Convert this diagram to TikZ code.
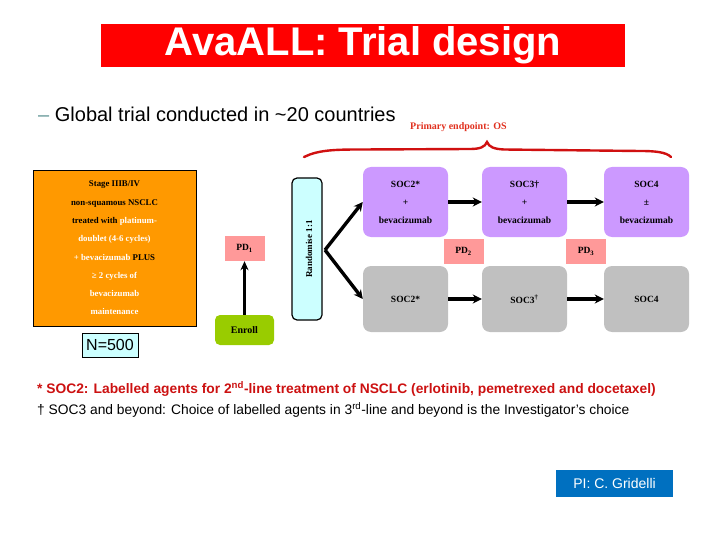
\documentclass[tikz,border=0pt]{standalone}
\usepackage{fontspec}
\setmainfont{Liberation Serif}
\setsansfont{Liberation Sans}
\usetikzlibrary{arrows.meta}
\definecolor{titlered}{HTML}{FF0000}
\definecolor{orangebox}{HTML}{FF9900}
\definecolor{cyanbox}{HTML}{CCFFFF}
\definecolor{pinkbox}{HTML}{FF9999}
\definecolor{greenbox}{HTML}{99CC00}
\definecolor{purplebox}{HTML}{CC99FF}
\definecolor{greybox}{HTML}{C0C0C0}
\definecolor{piblue}{HTML}{0070C0}
\definecolor{endpointred}{HTML}{E0301E}
\definecolor{bracered}{HTML}{D01010}
\definecolor{dashgrey}{HTML}{669999}
\definecolor{noteRed}{HTML}{CC1111}
\tikzset{
  small/.style={font=\bfseries\fontsize{9.5}{11}\selectfont},
  socbox/.style={rounded corners=8pt, minimum width=85pt, minimum height=70pt, inner sep=0pt, align=center, small,
     execute at begin node=\setlength{\baselineskip}{18pt}},
  pdbox/.style={fill=pinkbox, minimum width=40pt, minimum height=25pt, inner sep=0pt, small},
  flow/.style={line width=3.4pt, -{Stealth[length=9pt,width=9pt]}},
}
\begin{document}
\begin{tikzpicture}[x=1pt,y=-1pt]
\useasboundingbox (0,0) rectangle (720,540);
% title
\node[fill=titlered, minimum width=524pt, minimum height=43pt, inner sep=0pt,
      text=white, font=\sffamily\bfseries\fontsize{40}{44}\selectfont] (title) at (363,45.5) {AvaALL: Trial design};
% subtitle
\node[anchor=west, inner sep=0pt, font=\sffamily\fontsize{20}{24}\selectfont] (sub) at (38,114)
  {\textcolor{dashgrey}{--}\ Global trial conducted in \textasciitilde 20 countries};
\node[anchor=west, inner sep=0pt, text=endpointred, font=\bfseries\fontsize{10}{12}\selectfont] (endpoint) at (410,127) {Primary endpoint: OS};
% brace
\draw[bracered, line width=2.4pt, line cap=round]
  (304,157) .. controls (318,150) and (335,149.5) .. (360,149.5)
  -- (470,149) .. controls (480,149) and (485,147) .. (487,142)
  .. controls (489,147) and (494,149) .. (504,149.5)
  -- (640,151) .. controls (655,151) and (666,152) .. (671,157);
% orange box
\node[draw=black, line width=0.8pt, fill=orangebox, minimum width=163pt, minimum height=156pt, inner sep=0pt,
      align=center, font=\bfseries\fontsize{8.8}{18.3}\selectfont] (pop) at (114.5,248)
  {Stage IIIB/IV\\
   non-squamous NSCLC\\
   treated with \textcolor{white}{platinum-}\\
   \textcolor{white}{doublet (4-6 cycles)}\\
   \textcolor{white}{+ bevacizumab} PLUS\\
   \textcolor{white}{≥ 2 cycles of}\\
   \textcolor{white}{bevacizumab}\\
   \textcolor{white}{maintenance}};
\node[draw=black, line width=0.8pt, fill=cyanbox, minimum width=56pt, minimum height=24pt, inner sep=0pt,
      font=\sffamily\fontsize{16}{18}\selectfont] (n500) at (110,345) {N=500};
% PD1 and enroll
\node[pdbox] (pd1) at (244.5,248.5) {PD\textsubscript{1}};
\node[fill=greenbox, rounded corners=5pt, minimum width=59pt, minimum height=30pt, inner sep=0pt,
      font=\bfseries\fontsize{10}{12}\selectfont] (enroll) at (244.5,330) {Enroll};
\draw[line width=3pt, -{Stealth[length=9pt,width=8pt]}] (enroll.north) -- (pd1.south);
% randomise
\node[draw=black, line width=1.2pt, fill=cyanbox, rounded corners=5pt, minimum width=30pt, minimum height=142pt,
      inner sep=0pt] (rand) at (307,249) {};
\node[rotate=90, font=\bfseries\fontsize{9}{11}\selectfont] (randtxt) at (309,249) {Randomise 1:1};
% treatment boxes
\node[socbox, fill=purplebox] (a2) at (405.5,202) {SOC2*\\+\\bevacizumab};
\node[socbox, fill=purplebox] (a3) at (524.5,202) {SOC3†\\+\\bevacizumab};
\node[socbox, fill=purplebox] (a4) at (646.5,202) {SOC4\\±\\bevacizumab};
\node[socbox, fill=greybox, minimum height=66pt] (b2) at (405.5,299) {SOC2*};
\node[socbox, fill=greybox, minimum height=66pt] (b3) at (524.5,299) {SOC3\textsuperscript{†}};
\node[socbox, fill=greybox, minimum height=66pt] (b4) at (646.5,299) {SOC4};
\node[pdbox] (pd2) at (463.5,251.5) {PD\textsubscript{2}};
\node[pdbox] (pd3) at (586,251.5) {PD\textsubscript{3}};
% connectors
\coordinate (fork) at (325,250);
\draw[flow] (fork) -- (a2.west);
\draw[flow] (fork) -- (b2.west);
\draw[flow] (a2) -- (a3);
\draw[flow] (a3) -- (a4);
\draw[flow] (b2) -- (b3);
\draw[flow] (b3) -- (b4);
% footnotes
\node[anchor=west, inner sep=0pt, text=noteRed, font=\sffamily\bfseries\fontsize{13.8}{16}\selectfont] (note1) at (37,389)
  {* SOC2: Labelled agents for 2\textsuperscript{nd}-line treatment of NSCLC (erlotinib, pemetrexed and docetaxel)};
\node[anchor=west, inner sep=0pt, font=\sffamily\fontsize{13.8}{16}\selectfont] (note2) at (37,410)
  {† SOC3 and beyond: Choice of labelled agents in 3\textsuperscript{rd}-line and beyond is the Investigator's choice};
% PI
\node[fill=piblue, text=white, minimum width=117pt, minimum height=27pt, inner sep=0pt,
      font=\sffamily\fontsize{14}{16}\selectfont] (pi) at (614.5,483.5) {PI: C. Gridelli};
\end{tikzpicture}
\end{document}
